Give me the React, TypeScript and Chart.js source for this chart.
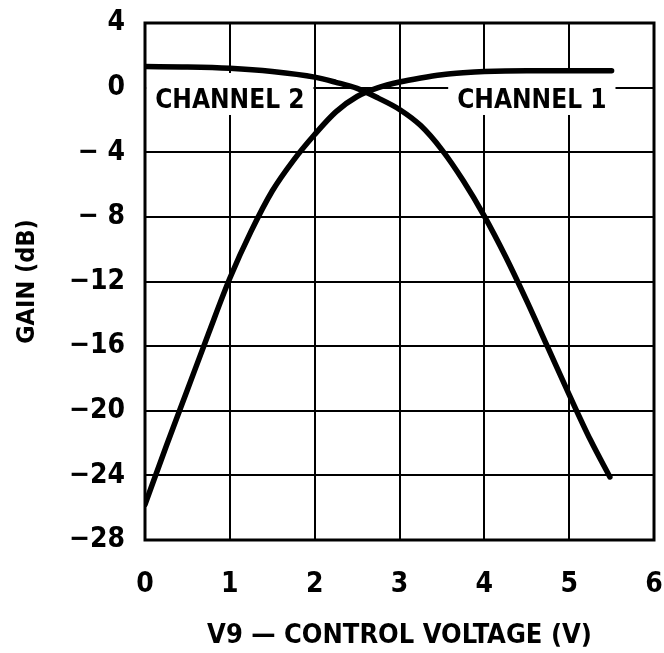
import React, { useEffect, useRef } from "react";
import { Chart, registerables } from "chart.js";

Chart.register(...registerables);

// ---- data ----
const ch1X = [0, 0.25, 0.5, 0.75, 1.0, 1.25, 1.5, 1.75, 2.0, 2.25, 2.5, 2.75, 3.0, 3.25, 3.5, 3.75, 4.0, 4.5, 5.0, 5.5];
const ch1Y = [-25.8, -22.2, -18.7, -15.2, -11.8, -8.9, -6.4, -4.5, -2.9, -1.5, -0.55, 0.0, 0.35, 0.6, 0.8, 0.92, 1.0, 1.05, 1.05, 1.05];
const ch2X = [0, 0.5, 1.0, 1.5, 2.0, 2.25, 2.5, 2.75, 3.0, 3.25, 3.5, 3.75, 4.0, 4.25, 4.5, 4.75, 5.0, 5.25, 5.48];
const ch2Y = [1.3, 1.28, 1.2, 1.0, 0.65, 0.33, -0.05, -0.65, -1.35, -2.35, -3.85, -5.75, -7.95, -10.45, -13.2, -16.1, -19.0, -21.8, -24.1];

const xTickValues = [0, 1, 2, 3, 4, 5, 6];
const xTickLabels = ["0", "1", "2", "3", "4", "5", "6"];
const yTickValues = [4, 0, -4, -8, -12, -16, -20, -24, -28];
const yTickLabels = ["4", "0", "\u2212 4", "\u2212 8", "\u221212", "\u221216", "\u221220", "\u221224", "\u221228"];

const labelTexts = ["CHANNEL 2", "CHANNEL 1"];
const labelX = [1.0, 4.56];
const labelY = [-1.26, -1.26];

const xTitle = "V9 \u2014 CONTROL VOLTAGE (V)";
const yTitle = "GAIN (dB)";

const FONT = "'DejaVu Sans Condensed', 'DejaVu Sans', sans-serif";

const labelPlugin = {
  id: "chanLabels",
  beforeDatasetsDraw(chart: any) {
    const { ctx, scales } = chart;
    ctx.save();
    ctx.font = `bold 26px ${FONT}`;
    ctx.textAlign = "center";
    ctx.textBaseline = "alphabetic";
    labelTexts.forEach((t, i) => {
      const px = scales.x.getPixelForValue(labelX[i]);
      const py = scales.y.getPixelForValue(labelY[i]);
      const w = ctx.measureText(t).width;
      ctx.fillStyle = "#ffffff";
      ctx.fillRect(px - w / 2 - 9, py - 35, w + 18, 42);
      ctx.fillStyle = "#000000";
      ctx.fillText(t, px, py);
    });
    ctx.restore();
  },
};

const borderPlugin = {
  id: "frame",
  afterDatasetsDraw(chart: any) {
    const { ctx, chartArea: a } = chart;
    ctx.save();
    ctx.strokeStyle = "#000";
    ctx.lineWidth = 3;
    ctx.strokeRect(a.left, a.top, a.right - a.left, a.bottom - a.top);
    ctx.restore();
  },
};

function zeroPad(s: any) {
  s.paddingLeft = 0;
  s.paddingRight = 0;
  s.paddingTop = 0;
  s.paddingBottom = 0;
}

export default function App() {
  const ref = useRef<HTMLCanvasElement | null>(null);

  useEffect(() => {
    document.body.style.margin = "0";
    const canvas = ref.current;
    if (!canvas) return;
    const chart = new Chart(canvas, {
      type: "line",
      data: {
        datasets: [
          {
            label: "Channel 1",
            data: ch1X.map((x, i) => ({ x, y: ch1Y[i] })),
            borderColor: "#000",
            borderWidth: 5.5,
            pointRadius: 0,
            cubicInterpolationMode: "monotone",
            borderCapStyle: "round",
            borderJoinStyle: "round",
            fill: false,
          },
          {
            label: "Channel 2",
            data: ch2X.map((x, i) => ({ x, y: ch2Y[i] })),
            borderColor: "#000",
            borderWidth: 5.5,
            pointRadius: 0,
            cubicInterpolationMode: "monotone",
            borderCapStyle: "round",
            borderJoinStyle: "round",
            fill: false,
          },
        ],
      },
      options: {
        animation: false,
        responsive: false,
        devicePixelRatio: 1,
        layout: { padding: { top: 23, right: 10, left: 0, bottom: 0 } },
        plugins: { legend: { display: false }, tooltip: { enabled: false } },
        scales: {
          x: {
            type: "linear",
            min: 0,
            max: 6,
            afterBuildTicks: (s: any) => {
              s.ticks = xTickValues.map((v) => ({ value: v }));
            },
            afterFit: (s: any) => {
              s.height = 113;
              zeroPad(s);
            },
            grid: { color: "#000", lineWidth: 2, drawTicks: false },
            border: { display: false },
            ticks: {
              color: "#000",
              padding: 28,
              maxRotation: 0,
              font: { family: FONT, size: 28, weight: "bold" },
              callback: (v: any) => {
                const i = xTickValues.indexOf(Number(v));
                return i >= 0 ? xTickLabels[i] : "";
              },
            },
            title: {
              display: true,
              text: xTitle,
              color: "#000",
              font: { family: FONT, size: 27, weight: "bold" },
              padding: { top: 0, bottom: 1 },
            },
          },
          y: {
            type: "linear",
            min: -28,
            max: 4,
            afterBuildTicks: (s: any) => {
              s.ticks = yTickValues.map((v) => ({ value: v }));
            },
            afterFit: (s: any) => {
              s.width = 145;
              zeroPad(s);
            },
            grid: { color: "#000", lineWidth: 2, drawTicks: false },
            border: { display: false },
            ticks: {
              color: "#000",
              padding: 20,
              font: { family: FONT, size: 28, weight: "bold" },
              callback: (v: any) => {
                const i = yTickValues.indexOf(Number(v));
                return i >= 0 ? yTickLabels[i] : "";
              },
            },
            title: {
              display: true,
              text: yTitle,
              color: "#000",
              font: { family: FONT, size: 25, weight: "bold" },
              padding: { top: 12, bottom: 0 },
            },
          },
        },
      },
      plugins: [labelPlugin, borderPlugin],
    } as any);
    return () => chart.destroy();
  }, []);

  return <canvas ref={ref} width={664} height={653} style={{ display: "block" }} />;
}
